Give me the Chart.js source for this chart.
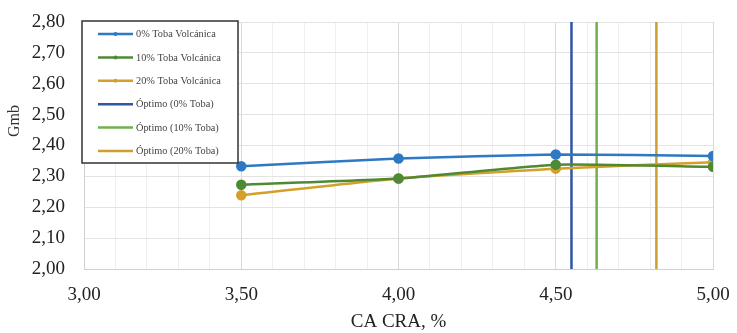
<!DOCTYPE html>
<html>
<head>
<meta charset="utf-8">
<script src="https://cdn.jsdelivr.net/npm/chart.js@4"></script>
<style>
  html, body { margin: 0; padding: 0; background: #fff; }
  #wrap { width: 737px; height: 333px; }
</style>
</head>
<body>
<div id="wrap"><canvas id="chart1" width="737" height="333"></canvas></div>
<script>
// ====== datos ======
const caCra = [3.5, 4.0, 4.5, 5.0];
const gmb0  = [2.333, 2.358, 2.371, 2.366];
const gmb10 = [2.273, 2.293, 2.338, 2.331];
const gmb20 = [2.239, 2.293, 2.325, 2.346];

const optimoLabels = ['Óptimo (0% Toba)', 'Óptimo (10% Toba)', 'Óptimo (20% Toba)'];
const optimoX = [4.55, 4.63, 4.82];
const yRange = [2.0, 2.8];
const xTicks = [3.0, 3.5, 4.0, 4.5, 5.0];

const serieLabels = ['0% Toba Volcánica', '10% Toba Volcánica', '20% Toba Volcánica'];
const serieColors = ['#2E78C4', '#4E8A34', '#D4A02A'];
const optimoColors = ['#2F55A5', '#71B04A', '#CC9F30'];

const FONT = "'Liberation Serif', 'Times New Roman', serif";
const fmt = v => v.toFixed(2).replace('.', ',');

const series = [gmb0, gmb10, gmb20].map((ys, i) => ({
  label: serieLabels[i],
  data: caCra.map((x, j) => ({ x, y: ys[j] })),
  borderColor: serieColors[i],
  backgroundColor: serieColors[i],
  pointBackgroundColor: serieColors[i],
  pointBorderColor: serieColors[i],
  borderWidth: 2.5,
  pointRadius: 4,
  showLine: true,
  tension: 0.15
}));

const optimos = optimoX.map((x, i) => ({
  label: optimoLabels[i],
  data: [{ x, y: yRange[0] }, { x, y: yRange[1] }],
  borderColor: optimoColors[i],
  backgroundColor: optimoColors[i],
  borderWidth: 2.5,
  pointRadius: 0,
  showLine: true
}));

// ====== leyenda dentro del área (estilo Excel) + título Y ======
const boxLegend = {
  id: 'boxLegend',
  afterDraw(chart) {
    const { ctx } = chart;
    const x0 = 82, y0 = 21, w = 156, h = 142;
    ctx.save();
    ctx.fillStyle = '#fff';
    ctx.fillRect(x0, y0, w, h);
    ctx.strokeStyle = '#333';
    ctx.lineWidth = 1.5;
    ctx.strokeRect(x0, y0, w, h);
    ctx.font = `10.3px ${FONT}`;
    ctx.textBaseline = 'middle';
    chart.data.datasets.forEach((ds, i) => {
      const y = 34 + i * 23.4;
      ctx.strokeStyle = ds.borderColor;
      ctx.lineWidth = 2.5;
      ctx.beginPath();
      ctx.moveTo(98, y);
      ctx.lineTo(133, y);
      ctx.stroke();
      if (ds.pointRadius > 0) {
        ctx.fillStyle = ds.borderColor;
        ctx.beginPath();
        ctx.arc(115.5, y, 2, 0, Math.PI * 2);
        ctx.fill();
      }
      ctx.fillStyle = '#444';
      ctx.fillText(ds.label, 136, y + 0.5);
    });

    // "Gmb" a la altura de 2,50 como en Excel
    ctx.translate(15, 121);
    ctx.rotate(-Math.PI / 2);
    ctx.font = `16px ${FONT}`;
    ctx.fillStyle = '#333';
    ctx.textAlign = 'center';
    ctx.fillText('Gmb', 0, 0);
    ctx.restore();
  }
};

new Chart(document.getElementById('chart1'), {
  type: 'scatter',
  data: { datasets: [...series, ...optimos] },
  plugins: [boxLegend],
  options: {
    responsive: false,
    animation: false,
    layout: { padding: { left: 0, right: 24, top: 22, bottom: 0 } },
    plugins: { legend: { display: false }, tooltip: { enabled: false } },
    scales: {
      x: {
        type: 'linear',
        min: xTicks[0],
        max: xTicks[xTicks.length - 1],
        afterBuildTicks: s => {
          const t = [];
          for (let k = 0; k <= 20; k++) t.push({ value: +(3 + k * 0.1).toFixed(1) });
          s.ticks = t;
        },
        afterFit: s => { s.height = 64; s.paddingLeft = 0; s.paddingRight = 0; },
        grid: {
          color: c => (Math.round(c.tick.value * 10) % 5 === 0 ? '#d9d9d9' : '#efefef'),
          lineWidth: 1,
          drawTicks: false
        },
        border: { color: '#d0d0d0' },
        ticks: {
          autoSkip: false,
          maxRotation: 0,
          padding: 15,
          color: '#222',
          font: { family: FONT, size: 19 },
          callback: v => (xTicks.some(t => Math.abs(t - v) < 1e-6) ? fmt(v) : '')
        },
        title: {
          display: true,
          text: 'CA CRA, %',
          color: '#222',
          font: { family: FONT, size: 19 },
          padding: { top: 0, bottom: 0 }
        }
      },
      y: {
        min: yRange[0],
        max: yRange[1],
        afterFit: s => { s.width = 84; s.paddingTop = 0; s.paddingBottom = 0; },
        ticks: {
          stepSize: 0.1,
          padding: 19,
          color: '#222',
          font: { family: FONT, size: 19 },
          callback: v => fmt(v)
        },
        grid: { color: '#e3e3e3', drawTicks: false },
        border: { color: '#d0d0d0' }
      }
    }
  }
});
</script>
</body>
</html>
